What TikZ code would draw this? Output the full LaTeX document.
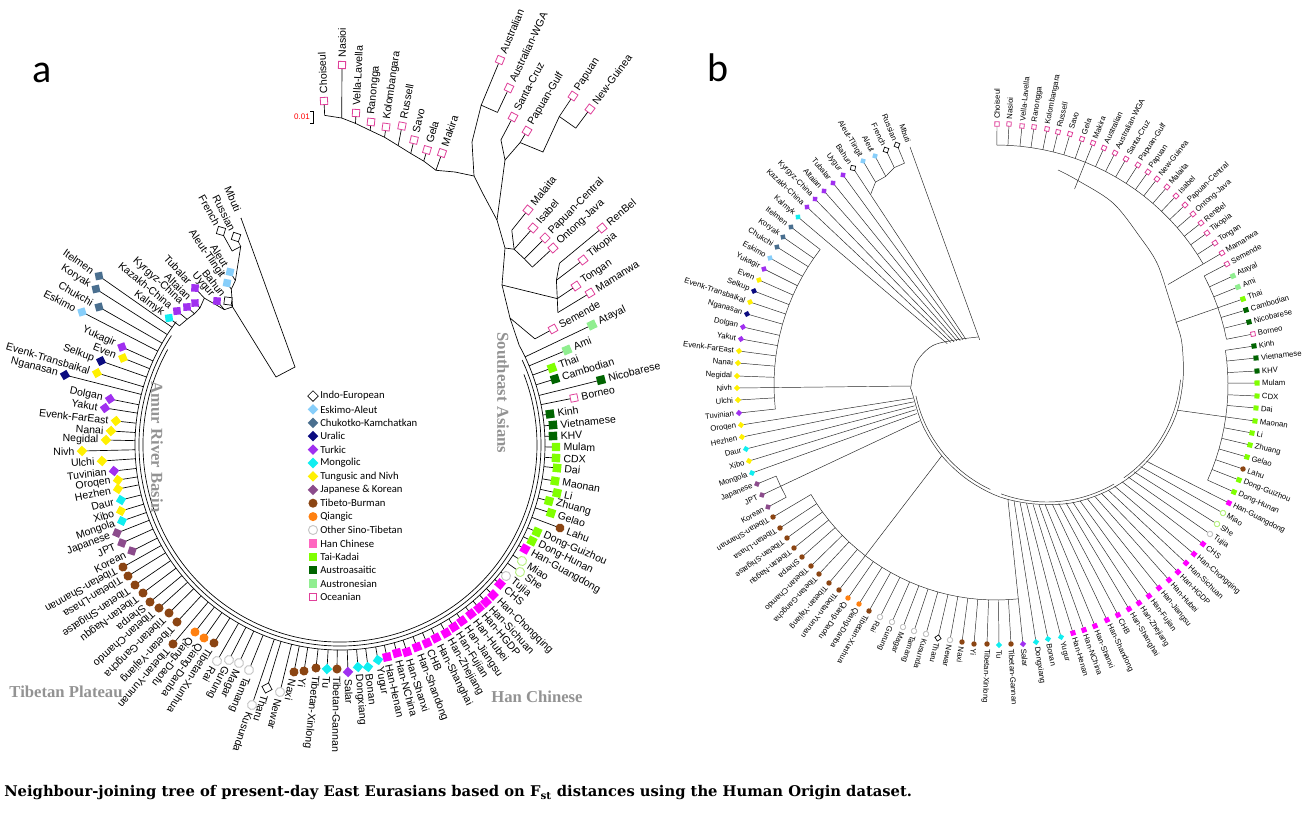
\documentclass[tikz,border=0pt]{standalone}
\usepackage{fontspec}
\setmainfont{Liberation Sans}
\newfontfamily\carl{Carlito}
\newfontfamily\serifb{Liberation Serif}
\newfontfamily\dvs{DejaVu Serif}
\usetikzlibrary{calc}
\definecolor{cea}{HTML}{87CEFA}
\definecolor{cck}{HTML}{4A6F8F}
\definecolor{cur}{HTML}{0B0B80}
\definecolor{ctu}{HTML}{A030F0}
\definecolor{cmo}{HTML}{10EEF0}
\definecolor{ctn}{HTML}{FFF000}
\definecolor{cjk}{HTML}{8C4C8C}
\definecolor{ctb}{HTML}{8B4513}
\definecolor{cqi}{HTML}{FF8010}
\definecolor{cos}{HTML}{C4C4C4}
\definecolor{chm}{HTML}{B8F080}
\definecolor{chc}{HTML}{FF00FF}
\definecolor{chl}{HTML}{FF66C0}
\definecolor{ctk}{HTML}{80FF00}
\definecolor{caa}{HTML}{006400}
\definecolor{can}{HTML}{90EE90}
\definecolor{coc}{HTML}{E0409A}
\definecolor{creg}{HTML}{939393}
\tikzset{
  mk/.style={inner sep=0pt, outer sep=0pt, line width=0.5pt},
  mdia/.style={mk, rectangle, rotate=45, minimum size=5.6pt},
  msq/.style={mk, rectangle, minimum size=6.3pt},
  mcir/.style={mk, circle, minimum size=6.8pt},
  kie/.style={mdia, draw=black, fill=white},
  kea/.style={mdia, fill=cea},
  kck/.style={mdia, fill=cck},
  kur/.style={mdia, fill=cur},
  ktu/.style={mdia, fill=ctu},
  kmo/.style={mdia, fill=cmo},
  ktn/.style={mdia, fill=ctn},
  kjk/.style={mdia, fill=cjk},
  ktb/.style={mcir, fill=ctb},
  kqi/.style={mcir, fill=cqi},
  kos/.style={mcir, draw=cos, fill=white, line width=0.7pt},
  khm/.style={mcir, draw=chm, fill=white, line width=0.7pt},
  khc/.style={msq, fill=chc},
  khl/.style={msq, fill=chl},
  ktk/.style={msq, fill=ctk},
  kaa/.style={msq, fill=caa},
  kan/.style={msq, fill=can},
  koc/.style={msq, minimum size=5.4pt, draw=coc, fill=white, line width=0.6pt},
  knone/.style={mk, minimum size=0pt},
  laba/.style={inner sep=0pt, font=\fontsize{7.9}{9}\selectfont},
  labb/.style={inner sep=0pt, font=\fontsize{5.8}{7}\selectfont},
  rdo/.style={anchor=west},
  rdf/.style={rotate=180, anchor=east},
  bra/.style={draw=black, line width=0.5pt},
  brb/.style={draw=black!85, line width=0.35pt},
  lgt/.style={inner sep=0pt, anchor=west, font=\carl\fontsize{8}{9}\selectfont},
  reg/.style={inner sep=0pt, text=creg, font=\serifb\bfseries\fontsize{12.5}{14}\selectfont}
}
\def\leaves{241/218/247/910/147/48/knone/Mbuti/rdf,
236/237/222/897/145/240/kie/Russian/rdf,
221/231/222/886/150/240/kie/French/rdf,
230/272/195/875/156/236/kea/Aleut/rdf,
227/283/190/863/161/236/kea/Aleut-Tlingit/rdf,
228/301/175/853/168/228/kie/Bahun/rdf,
217/301/178/843/175/56/ktu/Uygur/rdf,
195/288/200/833/183/57/ktu/Tubalar/rdf,
195/303/196/824/191/59/ktu/Altaian/rdf,
187/307/196/815/199/60/ktu/Kyrgyz-China/rdf,
177/311/198/807/207/62/ktu/Kazakh-China/rdf,
169/318/200/798/217/64/kmo/Kalmyk/rdf,
99/276/205/791/227/222/kck/Itelmen/rdf,
96/289/205/783/237/222/kck/Koryak/rdf,
99/307/205/777/247/222/kck/Chukchi/rdf,
82/312/205/770/258/222/kea/Eskimo/rdf,
122/347/205/764/269/222/ktu/Yukagir/rdf,
123/358/205/759/280/222/ktn/Even/rdf,
101/361/205/754/291/222/kur/Selkup/rdf,
97/373/205/750/302/222/ktn/Evenk-Transbaikal/rdf,
65/375/205/747/314/222/kur/Nganasan/rdf,
110/399/205/743/327/222/ktu/Dolgan/rdf,
105/408/205/741/339/222/ktu/Yakut/rdf,
116/421/205/739/351/222/ktn/Evenk-FarEast/rdf,
111/431/205/738/363/222/ktn/Nanai/rdf,
106/440/205/737/376/222/ktn/Negidal/rdf,
82/451/205/737/388/222/ktn/Nivh/rdf,
102/461/205/738/400/222/ktn/Ulchi/rdf,
114/471/205/739/413/222/ktu/Tuvinian/rdf,
118/480/205/741/425/84/ktn/Oroqen/rdf,
118/489/205/742/437/84/ktn/Hezhen/rdf,
121/500/205/746/449/84/kmo/Daur/rdf,
121/511/205/749/461/84/ktn/Xibo/rdf,
122/521/205/752/473/84/kmo/Mongola/rdf,
117/533/205/757/484/238/kjk/Japanese/rdf,
122/543/205/762/495/238/kjk/JPT/rdf,
132/551/205/768/507/238/kjk/Korean/rdf,
123/567/205/773/517/215/ktb/Tibetan-Shannan/rdo,
128/576/205/780/528/215/ktb/Tibetan-Lhasa/rdo,
135/585/205/787/538/215/ktb/Tibetan-Shigatse/rdo,
143/593/205/794/548/215/ktb/Tibetan-Nagqu/rdo,
150/602/205/802/557/215/ktb/Sherpa/rdo,
159/608/205/811/566/215/ktb/Tibetan-Chamdo/rdo,
169/613/205/819/574/215/ktb/Tibetan-Gangcha/rdo,
177/622/205/829/583/215/ktb/Tibetan-Yajiang/rdo,
173/644/205/839/590/215/ktb/Tibetan-Yunnan/rdo,
195/632/205/848/598/215/kqi/Qiang-Daofu/rdo,
204/638/205/859/604/215/kqi/Qiang-Danba/rdo,
214/643/205/869/611/215/ktb/Tibetan-Xunhua/rdo,
217/661/205/880/617/215/kos/Rai/rdo,
229/660/205/892/622/215/kos/Gurung/rdo,
239/663/205/903/627/215/kos/Magar/rdo,
249/670/205/914/631/215/kos/Tamang/rdo,
252/705/205/926/634/215/kos/Kusunda/rdo,
267/688/205/938/638/215/kie/Tharu/rdo,
280/692/205/950/640/215/kos/Newar/rdo,
294/672/205/962/642/215/ktb/Naxi/rdo,
304/671/205/974/644/215/ktb/Yi/rdo,
316/668/205/987/644/215/ktb/Tibetan-Xinlong/rdo,
327/669/205/999/645/215/kmo/Tu/rdo,
337/669/205/1011/644/215/ktb/Tibetan-Gannan/rdo,
348/672/205/1023/644/215/ktu/Salar/rdo,
358/667/205/1036/642/117/kmo/Dongxiang/rdo,
368/667/205/1048/639/120/kmo/Bonan/rdo,
378/660/205/1061/637/122/kmo/Yugur/rdo,
387/657/205/1073/633/125/khc/Han-Henan/rdo,
397/653/205/1084/630/127/khc/Han-NChina/rdo,
407/652/205/1095/626/129/khc/Han-Shanxi/rdo,
417/647/205/1107/620/132/khc/Han-Shandong/rdo,
427/643/205/1118/615/134/khc/CHB/rdo,
436/638/205/1129/609/137/khc/Han-Shanghai/rdo,
446/633/205/1139/603/140/khc/Han-Zhejiang/rdo,
454/627/205/1149/596/143/khc/Han-Fujian/rdo,
462/621/205/1159/588/146/khc/Han-Jiangsu/rdo,
471/614/205/1169/580/149/khc/Han-Hubei/rdo,
479/608/205/1178/572/151/khc/Han-HGDP/rdo,
486/602/205/1186/563/154/khc/Han-Sichuan/rdo,
493/595/205/1194/554/156/khc/Han-Chongqing/rdo,
500/584/205/1203/544/159/khc/CHS/rdo,
506/576/205/1210/534/161/kos/Tujia/rdo,
520/572/205/1217/524/163/khm/She/rdo,
522/561/205/1223/513/166/khm/Miao/rdo,
525/549/205/1229/503/169/khc/Han-Guangdong/rdo,
532/541/205/1234/492/232/ktk/Dong-Hunan/rdo,
537/532/205/1239/480/232/ktk/Dong-Guizhou/rdo,
560/528/205/1243/469/232/ktb/Lahu/rdo,
551/513/205/1247/457/232/ktk/Gelao/rdo,
549/501/205/1250/445/232/ktk/Zhuang/rdo,
557/493/205/1252/433/232/ktk/Li/rdo,
555/481/205/1255/421/232/ktk/Maonan/rdo,
557/468/205/1256/408/232/ktk/Dai/rdo,
556/458/205/1257/396/232/ktk/CDX/rdo,
556/447/205/1257/383/232/ktk/Mulam/rdo,
553/436/205/1257/371/232/kaa/KHV/rdo,
553/425/205/1256/358/232/kaa/Vietnamese/rdo,
550/414/205/1254/346/232/kaa/Kinh/rdo,
574/398/205/1253/334/235/koc/Borneo/rdo,
601/380/205/1249/322/235/kaa/Nicobarese/rdo,
555/379/205/1246/310/235/kaa/Cambodian/rdo,
552/368/205/1243/299/235/ktk/Thai/rdo,
567/350/205/1238/287/235/kan/Ami/rdo,
592/325/205/1233/276/235/kan/Atayal/rdo,
553/329/222/1227/264/235/koc/Semende/rdo,
590/293/255/1222/253/240/koc/Mamanwa/rdo,
576/286/262/1215/243/240/koc/Tongan/rdo,
583/260/272/1207/233/240/koc/Tikopia/rdo,
602/228/285/1201/223/240/koc/RenBel/rdo,
553/248/262/1193/214/240/koc/Ontong-Java/rdo,
545/238/262/1185/205/240/koc/Papuan-Central/rdo,
533/228/262/1176/196/240/koc/Isabel/rdo,
528/210/275/1167/187/240/koc/Malaita/rdo,
590/109/395/1157/179/240/koc/New-Guinea/rdo,
573/96/395/1148/172/240/koc/Papuan/rdo,
527/131/352/1138/165/240/koc/Papuan-Gulf/rdo,
513/117/345/1126/159/240/koc/Santa-Cruz/rdo,
509/88/368/1115/153/240/koc/Australian-WGA/rdo,
500/60/368/1104/148/240/koc/Australian/rdo,
442/153/291/1093/143/240/koc/Makira/rdo,
427/150/296/1082/139/240/koc/Gela/rdo,
414/140/300/1070/134/240/koc/Savo/rdo,
402/126/305/1058/132/240/koc/Russell/rdo,
386/127/311/1047/129/240/koc/Kolombangara/rdo,
371/122/316/1034/127/240/koc/Ranongga/rdo,
356/113/322/1022/126/240/koc/Vella-Lavella/rdo,
342/65/327/1009/124/240/koc/Nasioi/rdo,
324/101/330/997/124/240/koc/Choiseul/rdo}
\begin{document}
\begin{tikzpicture}[x=0.75pt,y=-0.75pt]
\fill[white] (0,0) rectangle (1307,818);
\useasboundingbox (0,0) rectangle (1307,818);
\coordinate (ca) at (340,445);
\coordinate (cb) at (996,385);
\coordinate (cr) at (1047,368);
% stems
\foreach \xa/\ya/\ra/\xb/\yb/\rb/\st/\lb/\fl [count=\i] in \leaves {
  \coordinate (pa\i) at (\xa,\ya);
  \coordinate (ai\i) at ($(ca)!\ra*0.75pt!(pa\i)$);
  \coordinate (pb\i) at (\xb,\yb);
  \coordinate (bi\i) at ($(cb)!\rb*0.75pt!(pb\i)$);
  \draw[bra] (pa\i) -- (ai\i);
  \draw[brb] (pb\i) -- (bi\i);
}
% ---------- panel a backbone ----------
\draw[bra] ($(ca)+(143:153.75pt)$) arc[start angle=143, end angle=389, radius=153.75pt];
\draw[bra] ($(ca)+(147:150.75pt)$) arc[start angle=147, end angle=385, radius=150.75pt];
\draw[bra] ($(ca)+(151:147.75pt)$) arc[start angle=151, end angle=381, radius=147.75pt];
\coordinate (Q0) at ($(ca)+(29:153.75pt)$);
\coordinate (Q1) at (510,318);
\coordinate (Q2) at (502,285);
\coordinate (Q3) at (505,248);
\coordinate (Q4) at (497,220);
\coordinate (Q5) at (482,192);
\coordinate (Q6) at (474,176);
\coordinate (Q7) at (455,172);
\coordinate (M1) at (543,152);
\coordinate (M2) at (505,160);
\coordinate (M3) at (472,142);
\coordinate (R1) at (295,367);
\coordinate (R2) at (276,377);
\draw[bra] (Q0) -- (Q1) -- (Q2) -- (Q3) -- (Q4) -- (Q5) -- (Q6) -- (Q7);
\draw[bra] (ai12) -- (ai11) -- (ai10) -- (ai9) -- (ai8) -- (ai7) -- (ai6) -- (ai5) -- (ai4) -- (ai2) -- (ai3);
\draw[bra] (pa1) -- (R1) -- (R2) -- (ai6);
\draw[bra] (ai103) -- (Q1);
\draw[bra] (ai104) -- (ai105) -- (ai106) -- (ai107);
\draw[bra] (ai105) -- (Q2);
\draw[bra] (ai108) -- (ai109) -- (ai110) -- (ai111);
\draw[bra] (ai110) -- (Q3);
\draw[bra] (ai112) -- (ai113) -- (M1) -- (ai114);
\draw[bra] (ai114) -- (M2) -- (ai115);
\draw[bra] (M2) -- (Q4);
\draw[bra] (ai116) -- (ai117) -- (M3) -- (Q6);
\draw[bra] (ai126) \foreach \k in {125,124,...,118} {-- (ai\k)} -- (Q7);
% scale bar
\node[text=red, inner sep=0pt, font=\fontsize{6}{7}\selectfont] (scl) at (302,117) {0.01};
\coordinate (sb1) at (310,111);
\coordinate (sb2) at (313,111);
\coordinate (sb3) at (313,123);
\coordinate (sb4) at (310,123);
\draw[line width=0.5pt] (sb1) -- (sb2) -- (sb3) -- (sb4);
% ---------- panel b inner structure ----------
\coordinate (s0) at (978,337);
\coordinate (s1) at (955,340);
\coordinate (s2) at (932,346);
\coordinate (s3) at (916,363);
\coordinate (sN) at (911,386);
\coordinate (s4) at (912,392);
\coordinate (s5) at (923,426);
\coordinate (s6) at (942,456);
\coordinate (s7) at (968,480);
\coordinate (s8) at (1000,497);
\coordinate (s9) at (1035,504);
\coordinate (s10) at (1071,503);
\coordinate (s11) at (1105,492);
\coordinate (s12) at (1135,473);
\coordinate (s13) at (1159,447);
\coordinate (s14) at (1176,415);
\coordinate (s15) at (1183,380);
\coordinate (s16) at (1182,344);
\coordinate (s17) at (1176,321);
\coordinate (s18) at (1168,295);
\coordinate (s19) at (1157,263);
\coordinate (s20) at (1140,237);
\coordinate (s21) at (1113,203);
\coordinate (s22) at (1077,180);
\coordinate (s23) at (1058,170);
\draw[brb] plot[smooth, tension=0.55] coordinates {(s0) (s1) (s2) (s3) (sN) (s4) (s5) (s6) (s7) (s8) (s9) (s10) (s11) (s12) (s13) (s14) (s15) (s16) (s17) (s18) (s19) (s20) (s21) (s22) (s23)};
\draw[brb] ($(cr)+(192:100.5pt)$) arc[start angle=192, end angle=245, radius=100.5pt];
\draw[brb] ($(cr)+(250:100.5pt)$) arc[start angle=250, end angle=300, radius=100.5pt];
\draw[brb] ($(cr)+(305:100.5pt)$) arc[start angle=305, end angle=355, radius=100.5pt];
\draw[brb] (bi2) -- (bi3) -- (bi4) -- (bi5) -- (bi6);
\draw[brb] (bi6) -- ($(cb)!0.24!(bi6)$);
\draw[brb] (bi13) \foreach \k in {14,...,29} {-- (bi\k)};
\draw[brb] (bi27) -- (sN);
\draw[brb] (bi35) -- (bi36) -- (bi37);
\draw[brb] (bi36) -- ($(cb)!0.353!(bi36)$);
\draw[brb] (bi38) \foreach \k in {39,...,62} {-- (bi\k)};
\draw[brb] (bi62) -- ($(cb)!0.535!(bi62)$);
\draw[brb] (bi46) -- ($(cb)!0.414!(bi46)$);
\draw[brb] (bi84) \foreach \k in {85,...,96} {-- (bi\k)};
\draw[brb] (bi90) -- ($(cb)!0.79!(bi90)$);
\draw[brb] (bi97) \foreach \k in {98,...,103} {-- (bi\k)};
\draw[brb] (bi100) -- ($(cb)!0.81!(bi100)$);
\draw[brb] (bi104) \foreach \k in {105,...,126} {-- (bi\k)};
\draw[brb] (bi104) -- ($(cb)!0.83!(bi104)$);
\draw[brb] (bi118) -- ($(cb)!0.88!(bi118)$);
% ---------- markers and labels ----------
\foreach \xa/\ya/\ra/\xb/\yb/\rb/\st/\lb/\fl [count=\i] in \leaves {
  \path let \p1=($(pa\i)-(ca)$), \n1={atan2(\y1,\x1)} in
     node[\st, rotate=\n1] (ma\i) at (pa\i) {}
     node[laba, rotate=\n1, \fl] (ta\i) at ($(pa\i)+(\n1:5.5pt)$) {\lb};
  \path let \p1=($(pb\i)-(cb)$), \n1={atan2(\y1,\x1)} in
     node[\st, rotate=\n1, scale=0.6] (mb\i) at (pb\i) {}
     node[labb, rotate=\n1, \fl] (tb\i) at ($(pb\i)+(\n1:3.6pt)$) {\lb};
}
% ---------- legend ----------
\foreach \st/\lb [count=\k] in {kie/Indo-European, kea/Eskimo-Aleut, kck/Chukotko-Kamchatkan, kur/Uralic, ktu/Turkic, kmo/Mongolic, ktn/Tungusic and Nivh, kjk/Japanese \& Korean, ktb/Tibeto-Burman, kqi/Qiangic, kos/Other Sino-Tibetan, khl/Han Chinese, ktk/Tai-Kadai, kaa/Austroasaitic, kan/Austronesian, koc/Oceanian} {
  \node[\st] (lg\k) at (313,{382.6+13.4*\k}) {};
  \node[lgt] (lt\k) at (320,{382.6+13.4*\k}) {\lb};
}
% ---------- region labels ----------
\node[reg, rotate=-90] (rAmur) at (157,447) {Amur River Basin};
\node[reg, rotate=-90] (rSEA) at (503,393) {Southeast Asians};
\node[reg] (rTib) at (66,692) {Tibetan Plateau};
\node[reg] (rHan) at (537,697) {Han Chinese};
\node[inner sep=0pt, font=\carl\fontsize{30}{32}\selectfont] (pla) at (42,73) {a};
\node[inner sep=0pt, font=\carl\fontsize{30}{32}\selectfont] (plb) at (718,68) {b};
\node[anchor=west, inner sep=0pt, font=\dvs\bfseries\fontsize{11.05}{13}\selectfont] (cap) at (4,793) {Neighbour-joining tree of present-day East Eurasians based on F\textsubscript{st} distances using the Human Origin dataset.};
\end{tikzpicture}
\end{document}
